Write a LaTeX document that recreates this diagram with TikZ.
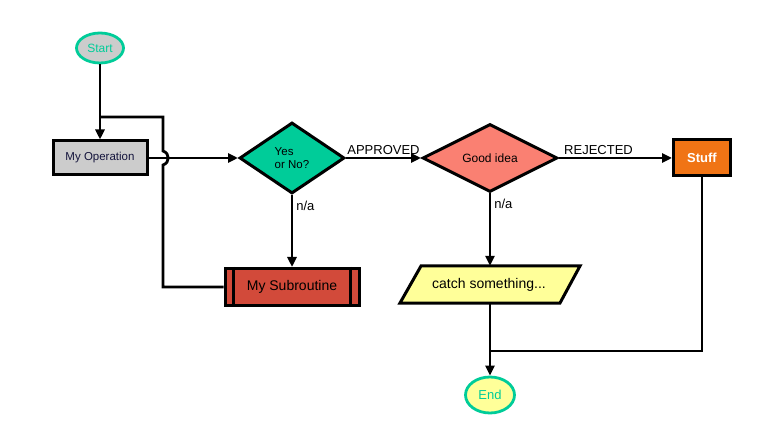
\documentclass[tikz,border=0pt]{standalone}
\usepackage{fontspec}
\setmainfont{Liberation Sans}
\usetikzlibrary{shapes.geometric,arrows.meta}
\definecolor{grn}{HTML}{00CC99}
\definecolor{lgray}{HTML}{CCCCCC}
\definecolor{salmon}{HTML}{FA8072}
\definecolor{orng}{HTML}{F07415}
\definecolor{subred}{HTML}{D24A3A}
\definecolor{lyell}{HTML}{FFFF99}
\begin{document}
\begin{tikzpicture}[x=1pt,y=-1pt,
  conn/.style={line width=2.8pt,draw=black},
  arr/.style={conn,-{Triangle[length=10pt,width=9pt]}},
  term/.style={ellipse,draw=grn,line width=2.8pt,inner sep=0pt,text=grn,font=\fontsize{12}{14}\selectfont},
  procbox/.style={rectangle,draw=black,line width=3pt,inner sep=0pt},
  dec/.style={diamond,draw=black,line width=3pt,inner sep=0pt,aspect=1.5},
  lbl/.style={font=\fontsize{13}{15}\selectfont,inner sep=1pt}]
\useasboundingbox (0,0) rectangle (784,430);
% nodes
\node[term,fill=lgray,minimum width=47pt,minimum height=30pt] (start) at (100,48) {Start};
\node[procbox,fill=lgray,minimum width=94pt,minimum height=34pt,font=\fontsize{11.5}{13}\selectfont,text={rgb,255:red,20;green,20;blue,60}] (op) at (100,158) {My Operation};
\node[dec,fill=grn,minimum width=105pt,minimum height=71pt,font=\fontsize{11.5}{13}\selectfont,align=left] (yn) at (292,158) {Yes\\or No?};
\node[dec,fill=salmon,minimum width=135pt,minimum height=68pt,font=\fontsize{12}{14}\selectfont] (good) at (490,158) {Good idea};
\node[procbox,fill=orng,minimum width=57pt,minimum height=36pt,text=white,font=\fontsize{13}{15}\selectfont\bfseries] (stuff) at (702,158) {Stuff};
\node[procbox,fill=subred,minimum width=134pt,minimum height=37pt,font=\fontsize{14}{16}\selectfont] (sub) at (292,287) {My Subroutine};
\draw[line width=3pt] ([xshift=10pt]sub.north west) -- ([xshift=10pt]sub.south west);
\draw[line width=3pt] ([xshift=-10pt]sub.north east) -- ([xshift=-10pt]sub.south east);
\coordinate (c1) at (421,266);
\coordinate (c2) at (580,266);
\coordinate (c3) at (560,303);
\coordinate (c4) at (400,303);
\filldraw[fill=lyell,draw=black,line width=3pt,line join=miter] (c1) -- (c2) -- (c3) -- (c4) -- cycle;
\node[rectangle,minimum width=150pt,minimum height=37pt,inner sep=0pt,font=\fontsize{14}{16}\selectfont] (catchtxt) at (489,284.5) {catch something...};
\node[rectangle,minimum width=150pt,minimum height=37pt,inner sep=0pt] (catch) at (490,284.5) {};
\node[term,fill=lyell,minimum width=49pt,minimum height=36pt,font=\fontsize{13}{15}\selectfont] (end) at (490,395) {End};
% coordinates
\coordinate (loopjoin) at (100,117);
\coordinate (loopcorner) at (163,117);
\coordinate (hoptop) at (163,151);
\coordinate (hopbot) at (163,165);
\coordinate (loopbot) at (163,287);
\coordinate (merge) at (490,351);
% connectors
\draw[arr] (start) -- (op);
\draw[arr] (op) -- (yn.west);
\draw[arr] (yn.east) -- node[lbl,above,yshift=1pt] {APPROVED} (good.west);
\draw[arr] (good.east) -- node[lbl,above,yshift=1pt,pos=0.35] {REJECTED} (stuff.west);
\draw[arr] (yn.south) -- node[lbl,pos=0.15,right,xshift=2pt] {n/a} (sub.north);
\draw[arr] (good.south) -- node[lbl,pos=0.15,right,xshift=2pt] {n/a} (catch.north);
\draw[conn] (sub.west) -- (loopbot) -- (hopbot) .. controls (170,163) and (170,153) .. (hoptop) -- (loopcorner) -- (loopjoin);
\draw[conn] (stuff.south) |- (merge);
\draw[arr] (catch.south) -- (end.north);
\end{tikzpicture}
\end{document}
